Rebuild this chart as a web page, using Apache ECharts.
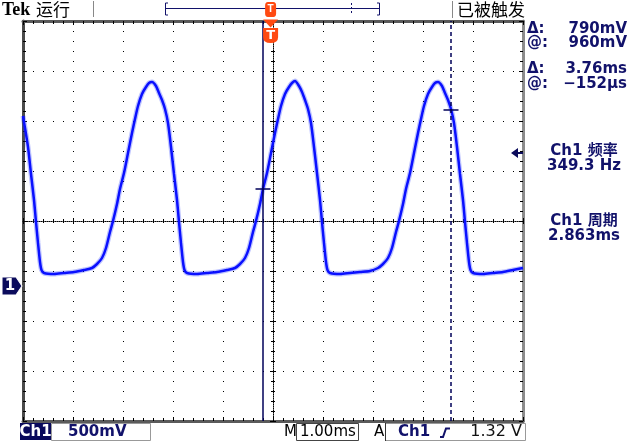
<!DOCTYPE html>
<html>
<head>
<meta charset="utf-8">
<script src="https://cdn.jsdelivr.net/npm/echarts@6/dist/echarts.min.js"></script>
<style>
  html, body { margin: 0; padding: 0; background: #fff; }
  #chart { width: 638px; height: 444px; }
</style>
</head>
<body>
<div id="chart"></div>
<script>
// Ch1 waveform, time in µs from trigger, voltage in V
var timeUs = [
  -4952, -4852, -4792, -4732, -4692, -4652, -4612, -4582, -4532, -4332,
  -4132, -3932, -3732, -3572, -3472, -3372, -3292, -3212, -3152, -3072,
  -3012, -2932, -2852, -2772, -2712, -2652, -2572, -2492, -2432,
  -2372, -2292, -2232, -2172, -2112, -2052, -1992, -1932, -1872, -1832,
  -1792, -1752, -1722, -1672, -1472, -1272, -1072, -872, -712, -612,
  -512, -432, -352, -292, -212, -152, -72, 8, 88, 148,
  208, 288, 368, 428,
  488, 568, 628, 688, 748, 808, 868, 928, 988, 1028,
  1068, 1108, 1138, 1188, 1388, 1588, 1788, 1988, 2148, 2248,
  2348, 2428, 2508, 2568, 2648, 2708, 2788, 2868, 2948, 3008,
  3068, 3148, 3228, 3288,
  3348, 3428, 3488, 3548, 3608, 3668, 3728, 3788, 3848, 3888,
  3928, 3968, 3998, 4048, 4248, 4448, 4648, 4848, 5048
];
var volts = [
  1.69, 1.38, 1.11, 0.85, 0.63, 0.42, 0.23, 0.15, 0.12, 0.11,
  0.12, 0.13, 0.15, 0.17, 0.21, 0.27, 0.37, 0.53, 0.64, 0.81,
  0.96, 1.12, 1.32, 1.52, 1.66, 1.79, 1.91, 1.98, 2.02,
  2.03, 1.99, 1.92, 1.85, 1.76, 1.62, 1.38, 1.11, 0.85, 0.63,
  0.42, 0.23, 0.15, 0.12, 0.11, 0.12, 0.13, 0.15, 0.17, 0.21,
  0.27, 0.37, 0.53, 0.64, 0.81, 0.96, 1.12, 1.32, 1.52, 1.66,
  1.79, 1.91, 1.98, 2.02,
  2.04, 1.99, 1.93, 1.85, 1.76, 1.62, 1.38, 1.12, 0.85, 0.63,
  0.42, 0.23, 0.15, 0.12, 0.11, 0.12, 0.13, 0.14, 0.17, 0.21,
  0.27, 0.37, 0.53, 0.64, 0.81, 0.96, 1.12, 1.32, 1.52, 1.66,
  1.79, 1.91, 1.98, 2.02,
  2.03, 1.99, 1.92, 1.85, 1.76, 1.62, 1.38, 1.11, 0.85, 0.63,
  0.42, 0.23, 0.15, 0.12, 0.11, 0.12, 0.13, 0.15, 0.17
];
// cursors
var cursorTimeUs = [-152, 3608];
var cursorVolts = [0.96, 1.75];
var triggerLevel = 1.32;
// screen range: 10 div x 1.00ms, 8 div x 500mV
var timeMin = -4952, timeMax = 5048;
var voltMin = -1.36, voltMax = 2.64;

var readout = [
  ['Δ:', '790mV', 29],
  ['@:', '960mV', 43],
  ['Δ:', '3.76ms', 69],
  ['@:', '−152µs', 84]
];
var measures = [
  ['Ch1 频率', '349.3 Hz', 151],
  ['Ch1 周期', '2.863ms', 221]
];

var NAVY = '#12126a';
var ORANGE = '#ff4a12';
var points = timeUs.map(function (t, i) { return [t, volts[i]]; });

function txt(x, y, s, font, fill, align) {
  return {
    type: 'text', x: x, y: y, silent: true,
    style: { text: s, font: font, fill: fill, align: align || 'left', textAlign: align || 'left',
             verticalAlign: 'middle', textVerticalAlign: 'middle' }
  };
}

var graphics = [
  txt(2, 10, 'Tek', 'bold 18px "Liberation Serif"', '#000'),
  txt(36, 10, '运行', '17px "Noto Sans CJK SC"', '#000'),
  { type: 'line', silent: true, shape: { x1: 93.5, y1: 1, x2: 93.5, y2: 17 }, style: { stroke: '#888', lineWidth: 1 } },
  { type: 'polyline', silent: true, shape: { points: [[168, 3], [165.5, 3], [165.5, 15], [168, 15]] }, style: { stroke: NAVY, lineWidth: 1, fill: null } },
  { type: 'polyline', silent: true, shape: { points: [[377, 3], [379.5, 3], [379.5, 15], [377, 15]] }, style: { stroke: NAVY, lineWidth: 1, fill: null } },
  { type: 'line', silent: true, shape: { x1: 166, y1: 8.5, x2: 379, y2: 8.5 }, style: { stroke: NAVY, lineWidth: 1 } },
  { type: 'line', silent: true, shape: { x1: 351.5, y1: 3, x2: 351.5, y2: 14 }, style: { stroke: NAVY, lineWidth: 1, lineDash: [2, 2] } },
  { type: 'line', silent: true, shape: { x1: 452.5, y1: 1, x2: 452.5, y2: 18 }, style: { stroke: '#888', lineWidth: 1 } },
  txt(457, 10, '已被触发', '17px "Noto Sans CJK SC"', '#000'),
  // bottom bar
  { type: 'rect', silent: true, shape: { x: 20, y: 423, width: 31, height: 17 }, style: { fill: '#0a0a5c' } },
  txt(35.5, 432, 'Ch1', 'bold 15px "DejaVu Sans"', '#fff', 'center'),
  { type: 'rect', silent: true, shape: { x: 51.5, y: 423.5, width: 99, height: 17 }, style: { fill: null, stroke: '#999', lineWidth: 1 } },
  txt(68, 432, '500mV', 'bold 15px "DejaVu Sans"', NAVY),
  txt(284, 432, 'M', '15px "DejaVu Sans"', '#000'),
  { type: 'rect', silent: true, shape: { x: 296.5, y: 423.5, width: 62, height: 17 }, style: { fill: null, stroke: '#444', lineWidth: 1 } },
  txt(300, 432, '1.00ms', '15px "DejaVu Sans"', '#000'),
  txt(374, 432, 'A', '15px "DejaVu Sans"', '#000'),
  { type: 'rect', silent: true, shape: { x: 385.5, y: 423.5, width: 140, height: 17 }, style: { fill: null, stroke: '#999', lineWidth: 1 } },
  { type: 'line', silent: true, shape: { x1: 385.5, y1: 423, x2: 385.5, y2: 441 }, style: { stroke: '#333', lineWidth: 1 } },
  txt(398, 432, 'Ch1', 'bold 15px "DejaVu Sans"', NAVY),
  { type: 'polyline', silent: true, shape: { points: [[440, 437], [443, 437], [446, 428.5], [450, 428.5]] }, style: { stroke: NAVY, lineWidth: 2, fill: null } },
  txt(522, 432, '1.32 V', '16px "DejaVu Sans"', '#111', 'right')
];
readout.forEach(function (r) {
  graphics.push(txt(527, r[2], r[0], 'bold 15px "DejaVu Sans"', NAVY));
  graphics.push(txt(627, r[2], r[1], 'bold 15px "DejaVu Sans"', NAVY, 'right'));
});
measures.forEach(function (m) {
  graphics.push(txt(584, m[2], m[0], 'bold 15px "DejaVu Sans", "Noto Sans CJK SC"', NAVY, 'center'));
  graphics.push(txt(584, m[2] + 15, m[1], 'bold 15px "DejaVu Sans"', NAVY, 'center'));
});

function edgeAxis(pos, color) {
  return {
    type: 'value', position: pos, min: pos === 'top' || pos === 'bottom' ? -5 : -4,
    max: pos === 'top' || pos === 'bottom' ? 5 : 4, interval: 1,
    axisLine: { show: true, onZero: false, lineStyle: { color: color, width: 3 } },
    axisTick: { show: true, inside: true, length: 4, lineStyle: { color: '#000' } },
    minorTick: { show: true, splitNumber: 5, length: 3, lineStyle: { color: '#000' } },
    axisLabel: { show: false }, splitLine: { show: false }
  };
}
function centerAxis(isX, inside, withGrid) {
  return {
    type: 'value', min: isX ? -5 : -4, max: isX ? 5 : 4, interval: 1,
    position: isX ? 'bottom' : 'left',
    axisLine: { show: withGrid, onZero: true, onZeroAxisIndex: 1, lineStyle: { color: '#000', width: 1, type: [1, 1] } },
    axisTick: { show: true, inside: inside, length: 3, lineStyle: { color: '#000' } },
    minorTick: { show: true, splitNumber: 5, length: 2, lineStyle: { color: '#000' } },
    axisLabel: { show: false },
    splitLine: { show: withGrid, lineStyle: { color: '#000', width: 1, type: [1, 9] } }
  };
}

var chart = echarts.init(document.getElementById('chart'));
chart.setOption({
  animation: false,
  backgroundColor: '#fff',
  grid: { left: 23, top: 21, width: 500, height: 400, show: false },
  xAxis: [
    { type: 'value', min: timeMin, max: timeMax, show: false, axisLine: { onZero: false } },
    centerAxis(true, true, true),
    centerAxis(true, false, false),
    edgeAxis('top', '#5a5a5a'),
    edgeAxis('bottom', '#5a5a5a')
  ],
  yAxis: [
    { type: 'value', min: voltMin, max: voltMax, show: false, axisLine: { onZero: false } },
    centerAxis(false, true, true),
    centerAxis(false, false, false),
    edgeAxis('left', '#4a4a4a'),
    edgeAxis('right', '#8c8c8c')
  ],
  graphic: graphics,
  series: [
    {
      type: 'line', data: points, showSymbol: false, smooth: 0.25, silent: true,
      lineStyle: { color: 'rgba(40,60,255,0.3)', width: 5 }, z: 3
    },
    {
      type: 'line', data: points, showSymbol: false, smooth: 0.25, silent: true,
      lineStyle: { color: '#0a10ff', width: 2.5 }, z: 4,
      markLine: {
        silent: true, symbol: ['none', 'none'], label: { show: false },
        data: [
          { xAxis: cursorTimeUs[0], lineStyle: { color: '#000058', width: 1.5, type: 'solid' } },
          { xAxis: cursorTimeUs[1], lineStyle: { color: '#000058', width: 1.5, type: [4, 3] } }
        ]
      },
      markPoint: {
        silent: true, label: { show: false },
        data: [
          { coord: [cursorTimeUs[0], cursorVolts[0]], symbol: 'rect', symbolSize: [15, 1.5], itemStyle: { color: '#000058' } },
          { coord: [cursorTimeUs[1], cursorVolts[1]], symbol: 'rect', symbolSize: [15, 1.5], itemStyle: { color: '#000058' } },
          { coord: [timeMin, 0], symbol: 'path://M0,0 L14,0 L20,9 L14,18 L0,18 Z', symbolSize: [20, 18], symbolOffset: [-11, 1],
            itemStyle: { color: '#0c0c5c', borderColor: '#fff', borderWidth: 1 },
            label: { show: true, formatter: '1', color: '#fff', fontWeight: 'bold', fontSize: 15, fontFamily: 'DejaVu Sans', offset: [-2, 0] } },
          { coord: [timeMax, triggerLevel], symbol: 'path://M0,5 L7,0 L7,4 L12,4 L12,6 L7,6 L7,10 Z', symbolSize: [12, 10], symbolOffset: [-6, 0],
            itemStyle: { color: '#0c0c5c' } },
          { coord: [0, voltMax], symbol: 'roundRect', symbolSize: [11, 15], symbolOffset: [0, -11.5], itemStyle: { color: ORANGE },
            label: { show: true, formatter: 'T', color: '#fff', fontWeight: 'bold', fontSize: 10 } },
          { coord: [0, voltMax], symbol: 'triangle', symbolRotate: 180, symbolSize: [15, 8], symbolOffset: [0, 2.5], itemStyle: { color: ORANGE } },
          { coord: [0, voltMax], symbol: 'path://M0,0 L14,0 L14,9 Q14,15 7,15 Q0,15 0,9 Z', symbolSize: [15, 15], symbolOffset: [0, 14.5],
            itemStyle: { color: ORANGE },
            label: { show: true, formatter: 'T', color: '#fff', fontWeight: 'bold', fontSize: 13, fontFamily: 'DejaVu Sans' } }
        ]
      }
    }
  ]
});
</script>
</body>
</html>
